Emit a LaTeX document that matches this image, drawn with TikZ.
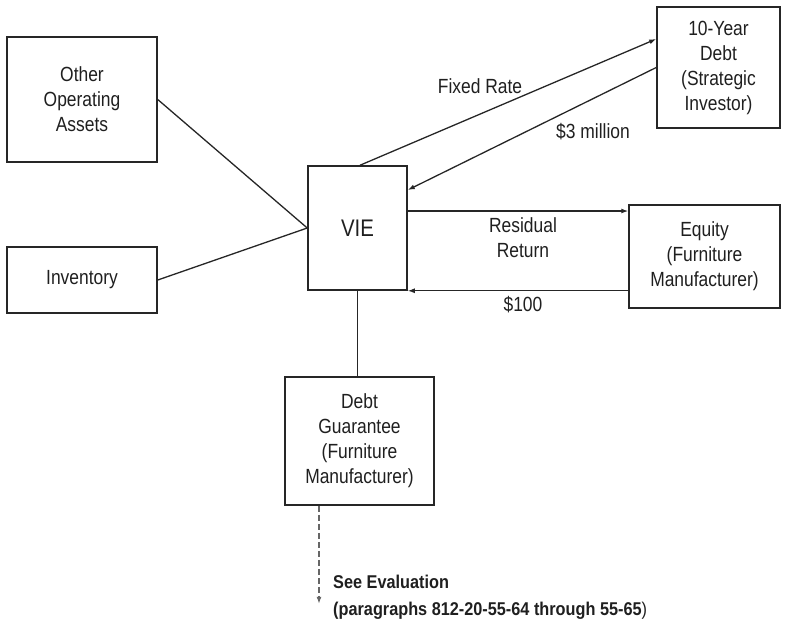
\documentclass[tikz,border=0pt]{standalone}
\usepackage{fontspec}
\setmainfont{Liberation Sans}[FakeStretch=0.85]
\newfontfamily\notefont{Liberation Sans}[FakeStretch=0.88]
\usetikzlibrary{arrows.meta,calc}

\begin{document}
\begin{tikzpicture}[x=1pt,y=-1pt,
  box/.style={draw=black!85, line width=1.5pt, rectangle, inner sep=0pt,
    align=center, text=black!88, font=\fontsize{20.5}{25}\selectfont},
  lbl/.style={align=center, text=black!88, inner sep=0pt,
    font=\fontsize{20.5}{25}\selectfont},
  link/.style={draw=black!85, line width=1.3pt},
  flow/.style={link, -{Latex[length=7pt,width=5pt]}},
]
\useasboundingbox (0,0) rectangle (785,625);

% boxes
\node[box, minimum width=150pt, minimum height=125pt] (oa) at (82,99.5) {Other\\Operating\\Assets};
\node[box, minimum width=150pt, minimum height=66pt] (inv) at (82,280) {Inventory};
\node[box, minimum width=99pt, minimum height=124pt, font=\fontsize{24}{28}\selectfont] (vie) at (357.5,228) {VIE};
\node[box, minimum width=123pt, minimum height=121pt] (debt) at (718.5,67.5) {10-Year\\Debt\\(Strategic\\Investor)};
\node[box, minimum width=151pt, minimum height=103pt] (eq) at (704.5,256.5) {Equity\\(Furniture\\Manufacturer)};
\node[box, minimum width=149pt, minimum height=128pt] (dg) at (359.5,441) {Debt\\Guarantee\\(Furniture\\Manufacturer)};

% assets feeding the VIE
\draw[link] (oa.east) -- (vie.west);
\draw[link] (inv.east) -- (vie.west);

% debt holder flows
\draw[flow] ([xshift=2.5pt]vie.north) -- ([yshift=28.5pt]debt.west);
\draw[flow] (debt.west) -- ([yshift=38pt]vie.east);

% equity holder flows
\coordinate (rrs) at ([yshift=17pt]vie.east);
\draw[flow] (rrs) -- (rrs -| eq.west);
\draw[flow] (eq.west |- vie.south east) -- (vie.south east);

% guarantee
\draw[link] (vie.south) -- (vie.south |- dg.north);
\coordinate (evs) at ([xshift=-40.5pt]dg.south);
\coordinate (eve) at ([yshift=-98pt]evs);
\draw[link, draw=black!60, line width=1.1pt, dash pattern=on 6pt off 3pt, -{Latex[length=7pt,width=5pt]}] (evs) -- (eve);

% labels
\node[lbl] (fr) at (480,86) {Fixed Rate};
\node[lbl] (m3) at (593,132) {\$3 million};
\node[lbl] (rr) at (523,237.5) {Residual\\Return};
\node[lbl] (h) at (523,305) {\$100};
\node[anchor=north west, inner sep=0pt, align=left, text=black!88,
  font=\notefont\fontsize{18.5}{27}\selectfont\bfseries] (note) at (333,575)
  {See Evaluation\\(paragraphs 812-20-55-64 through 55-65\textmd{)}};
\end{tikzpicture}
\end{document}
